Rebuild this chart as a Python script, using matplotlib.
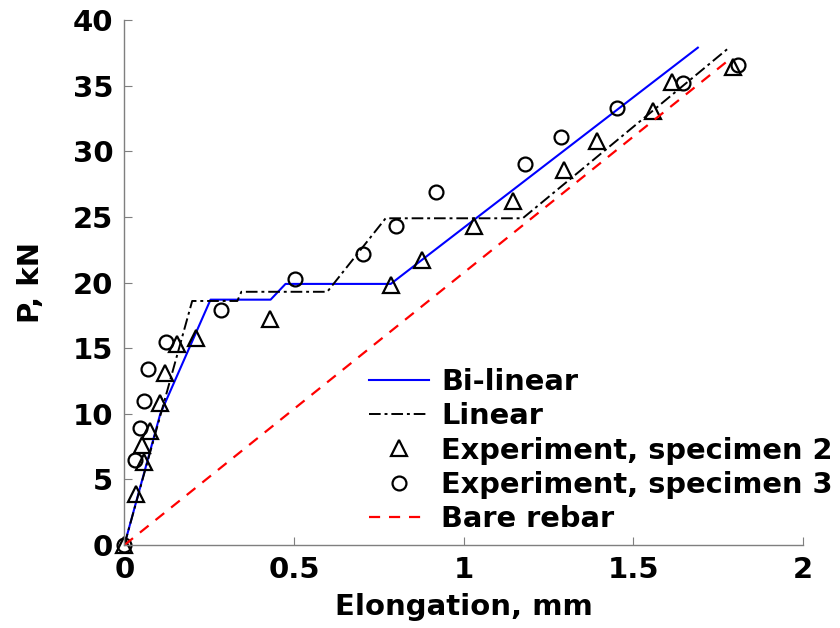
import numpy as np
import matplotlib.pyplot as plt

# ---- model curves (elongation mm, load kN) ----
bilin_x = [0, 0.106, 0.254, 0.431, 0.475, 0.785, 1.69]
bilin_y = [0, 10.0, 18.7, 18.7, 19.9, 19.9, 37.9]

lin_x = [0, 0.200, 0.333, 0.345, 0.598, 0.770, 1.174, 1.782]
lin_y = [0, 18.6, 18.6, 19.3, 19.3, 24.9, 24.9, 37.9]

bare_x = [0, 1.788]
bare_y = [0, 37.1]

# ---- experiments ----
spec2_x = [0, 0.033, 0.057, 0.052, 0.077, 0.104, 0.121, 0.155, 0.212, 0.429,
           0.785, 0.876, 1.030, 1.144, 1.296, 1.394, 1.557, 1.613, 1.794]
spec2_y = [0, 3.9, 6.3, 7.6, 8.7, 10.8, 13.1, 15.3, 15.8, 17.2,
           19.8, 21.7, 24.3, 26.2, 28.6, 30.8, 33.1, 35.3, 36.4]

spec3_x = [0, 0.030, 0.045, 0.057, 0.069, 0.124, 0.285, 0.504, 0.704, 0.801,
           0.917, 1.181, 1.286, 1.451, 1.645, 1.807]
spec3_y = [0, 6.5, 8.9, 11.0, 13.4, 15.5, 17.9, 20.3, 22.2, 24.3,
           26.9, 29.0, 31.1, 33.3, 35.2, 36.6]

plt.rcParams['font.family'] = ['DejaVu Sans']
plt.rcParams['font.weight'] = 'bold'

fig = plt.figure(figsize=(8.4, 6.28), dpi=100)
ax = fig.add_axes([0.148, 0.132, 0.808, 0.836])

ax.plot(bilin_x, bilin_y, color='#0000ff', lw=1.5, label='Bi-linear')
ax.plot(lin_x, lin_y, color='black', lw=1.4, ls=(0, (6, 2, 1.5, 2)), label='Linear')
ax.plot(spec2_x, spec2_y, ls='none', marker='^', ms=12, mfc='none', mec='black',
        mew=1.6, label='Experiment, specimen 2', clip_on=False)
ax.plot(spec3_x, spec3_y, ls='none', marker='o', ms=10, mfc='none', mec='black',
        mew=1.6, label='Experiment, specimen 3', clip_on=False)
ax.plot(bare_x, bare_y, color='red', lw=1.6, ls=(0, (5, 4)), label='Bare rebar')

ax.set_xlim(0, 2)
ax.set_ylim(0, 40)
ax.set_xticks([0, 0.5, 1, 1.5, 2])
ax.set_xticklabels(['0', '0.5', '1', '1.5', '2'])
ax.set_yticks(np.arange(0, 41, 5))

for s in ['top', 'right']:
    ax.spines[s].set_visible(False)
for s in ['left', 'bottom']:
    ax.spines[s].set_color('#7f7f7f')
    ax.spines[s].set_linewidth(1.0)
ax.tick_params(direction='in', length=6, color='#7f7f7f', labelsize=21, pad=8)
for lab in ax.get_xticklabels() + ax.get_yticklabels():
    lab.set_fontweight('bold')

ax.set_xlabel('Elongation, mm', fontsize=21, fontweight='bold', labelpad=6)
ax.set_ylabel('P, kN', fontsize=21, fontweight='bold', labelpad=20)

ax.legend(loc='upper left', bbox_to_anchor=(0.36, 0.337), frameon=False,
          handlelength=2.1, handletextpad=0.4, labelspacing=0.215,
          borderpad=0, borderaxespad=0, prop={'weight': 'bold', 'size': 20.8})

fig.savefig('out.png', dpi=100)
